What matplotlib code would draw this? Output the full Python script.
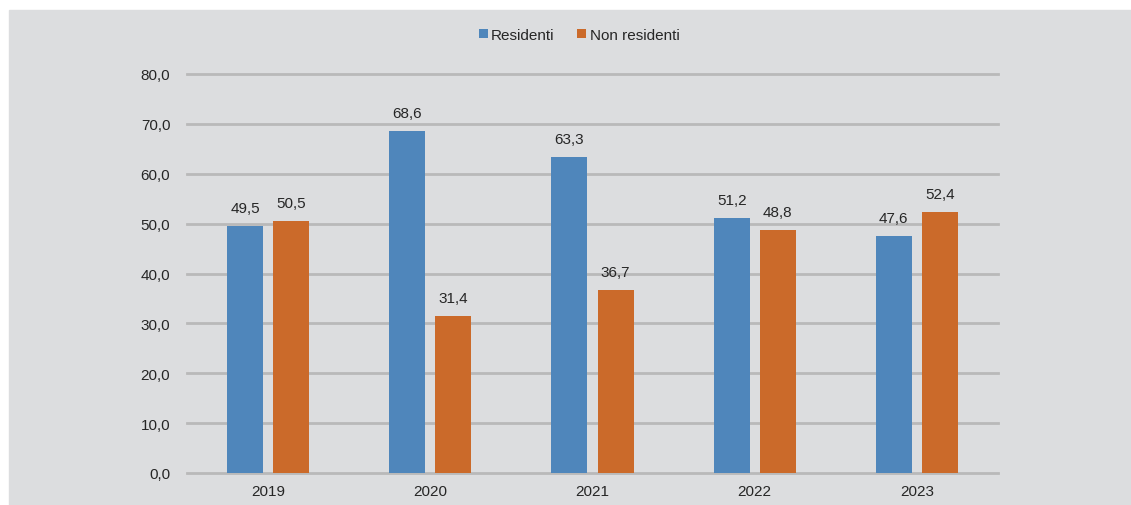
import matplotlib.pyplot as plt
import matplotlib.patches as mpatches
import numpy as np

plt.rcParams['font.family'] = ['Liberation Sans', 'DejaVu Sans']

years = ['2019', '2020', '2021', '2022', '2023']
residenti = [49.5, 68.6, 63.3, 51.2, 47.6]
non_residenti = [50.5, 31.4, 36.7, 48.8, 52.4]

W, H = 1131, 506
bg = '#dcdddf'
fig = plt.figure(figsize=(W / 100, H / 100), dpi=100, facecolor='white')
# gray panel (white strip at top and left)
fig.patches.append(mpatches.Rectangle((9 / W, 0), 1 - 9 / W, (H - 11) / H,
                                      transform=fig.transFigure, color=bg, zorder=-10))

ax = fig.add_axes([187 / W, 1 - 474 / H, (998 - 187) / W, (474 - 75) / H])
ax.set_facecolor(bg)
ax.patch.set_alpha(0)

x = np.arange(len(years))
bw = 0.222
off = 0.142
b1 = ax.bar(x - off, residenti, bw, color='#4f86bb', label='Residenti', zorder=3)
b2 = ax.bar(x + off, non_residenti, bw, color='#cb6a2a', label='Non residenti', zorder=3)

fmt = lambda v: f'{v:.1f}'.replace('.', ',')
for bars, vals in ((b1, residenti), (b2, non_residenti)):
    for b, v in zip(bars, vals):
        ax.text(b.get_x() + b.get_width() / 2, v + 2.2, fmt(v), ha='center', va='bottom',
                fontsize=11, color='#262626')

ax.set_xlim(-0.5, 4.5)
ax.set_ylim(0, 80)
ax.set_yticks(np.arange(0, 81, 10))
ax.set_yticklabels([fmt(v) for v in np.arange(0, 81, 10)])
ax.set_xticks(x)
ax.set_xticklabels(years)
ax.yaxis.grid(True, color='#b9b9b9', linewidth=2, zorder=0)
for gl in ax.get_ygridlines():
    gl.set_clip_on(False)
ax.set_axisbelow(True)
ax.tick_params(length=0, labelsize=11, labelcolor='#262626')
ax.tick_params(axis='y', pad=12)
ax.tick_params(axis='x', pad=8)
for s in ax.spines.values():
    s.set_visible(False)

leg = fig.legend(handles=[b1, b2], loc='center', bbox_to_anchor=(579 / W, 1 - 36 / H),
                 ncol=2, frameon=False, fontsize=11, handlelength=0.6, handleheight=0.6,
                 handletextpad=0.2, columnspacing=1.5)
for t in leg.get_texts():
    t.set_color('#262626')

fig.savefig('out.png', dpi=100, facecolor='white')
